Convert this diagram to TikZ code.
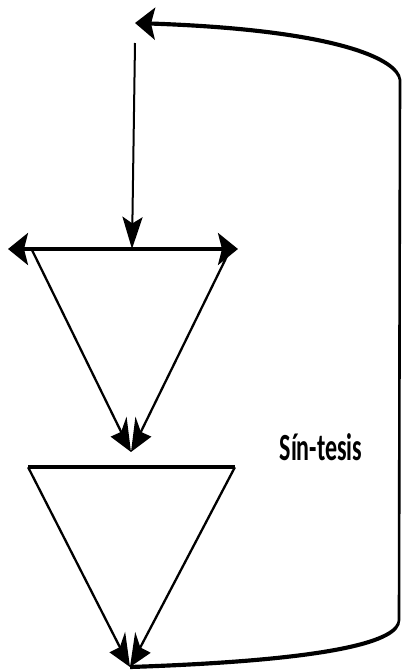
\documentclass[tikz,border=0pt]{standalone}
\usepackage{fontspec}
\usepackage{tikz}
\usetikzlibrary{arrows.meta}
\newfontfamily\synthfont{Carlito}

\begin{document}
\begin{tikzpicture}[
    >={Stealth[length=10pt,width=10pt,inset=2pt]},
    line width=1pt,
    x=0.5pt, y=-0.5pt
]
\useasboundingbox (0,0) rectangle (402,670);

% the whole drawing is stretched upright
\begin{scope}[y=-0.3125pt, transform canvas={yscale=1.6}]

%-------------------------
% Points
%-------------------------
\coordinate (start) at (135,43);
\coordinate (loopTop) at (135,23);

% upper triangle
\coordinate (barL) at (8,249);
\coordinate (barR) at (238,249);
\coordinate (barMid) at (132,249);
\coordinate (A1) at (32,250);
\coordinate (A2) at (230,250);
\coordinate (apexA) at (131,452);

% lower triangle
\coordinate (B1) at (28,467);
\coordinate (B2) at (235,467);
\coordinate (apexB) at (130,667);

%-------------------------
% Input arrow
%-------------------------
\draw[->] (start) -- (barMid);

%-------------------------
% Upper triangle
%-------------------------
\draw[<->, line width=1.2pt] (barL) -- (barR);
\draw[->] (A1) -- (apexA);
\draw[->] (A2) -- (apexA);

%-------------------------
% Lower triangle
%-------------------------
\draw[line width=1.2pt] (B1) -- (B2);
\draw[->] (B1) -- (apexB);
\draw[->] (B2) -- (apexB);

%-------------------------
% Feedback loop
%-------------------------
\draw[->, line width=1.3pt] (apexB) .. controls (340,660) and (399,640) .. (399,620)
    -- (400,80) .. controls (398,60) and (340,30) .. (loopTop);

% Label
\node[font=\synthfont\bfseries\fontsize{12}{14}\selectfont, anchor=base]
    (synth) at (321,460) {Sín-tesis};

\end{scope}
\end{tikzpicture}
\end{document}
